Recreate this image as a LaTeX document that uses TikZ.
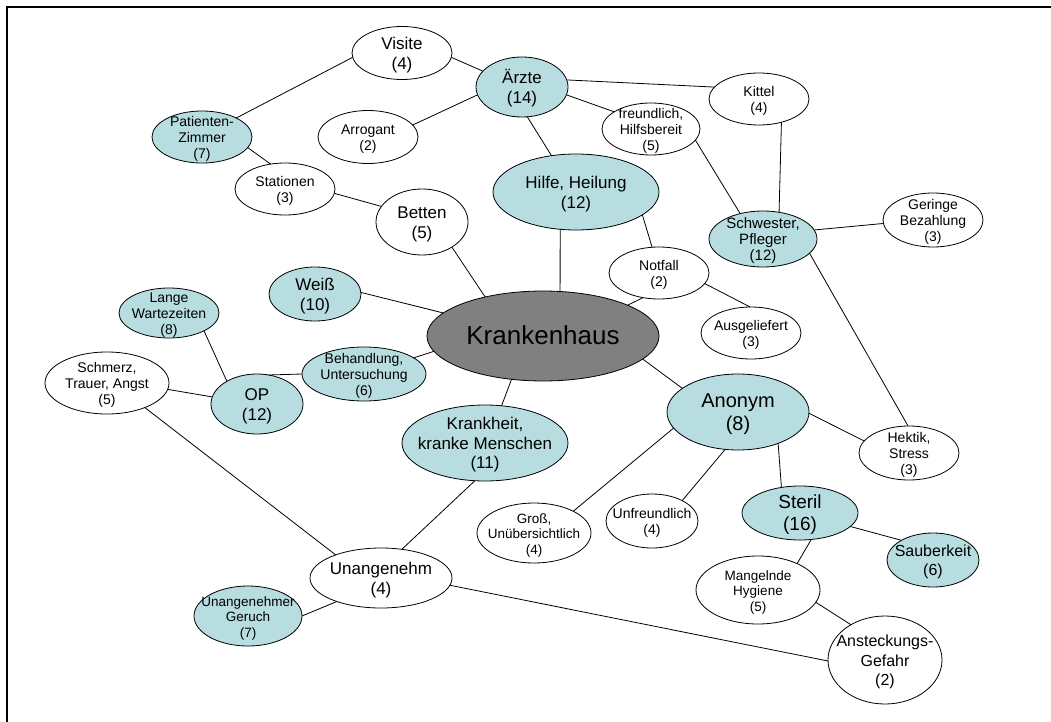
\documentclass[tikz,border=0pt]{standalone}
\usepackage{fontspec}
\setmainfont{Liberation Sans}
\usetikzlibrary{shapes.geometric}
\definecolor{bubteal}{RGB}{183,221,224}
\definecolor{hubgray}{RGB}{128,128,128}
% centred multi-line label that does not influence the ellipse size
\newsavebox\bubblebox
\newcommand\ctext[1]{\sbox\bubblebox{\begin{tabular}{@{}c@{}}#1\end{tabular}}%
  \raisebox{\dimexpr(\dp\bubblebox-\ht\bubblebox)/2-2.5pt\relax}[0pt][0pt]{\makebox[0pt]{\usebox\bubblebox}}}
\begin{document}
\begin{tikzpicture}[x=1pt,y=-1pt,
  bub/.style={ellipse,draw=black,line width=0.8pt,inner sep=0pt,outer sep=0pt},
  plain/.style={bub,fill=white},
  tealb/.style={bub,fill=bubteal},
  hub/.style={bub,fill=hubgray},
  dims/.style 2 args={minimum width=#1pt,minimum height=#2pt},
  fsm/.style={font=\fontsize{14}{16}\selectfont},
  fxs/.style={font=\fontsize{13.5}{15.6}\selectfont},
  fmd/.style={font=\fontsize{17}{19.5}\selectfont},
  flg/.style={font=\fontsize{20}{23}\selectfont},
  link/.style={line width=0.8pt}]
\useasboundingbox (0,0) rectangle (1051,722);
% frame
\draw[line width=2.5pt] (1051,7) -- (7,7) -- (7,722);

% central node
\node[hub,dims={232}{90},font=\fontsize{26}{30}\selectfont] (haus) at (543,336) {\ctext{Krankenhaus}};

% upper part
\node[tealb,dims={100}{52},fsm] (pz) at (202,137) {\ctext{Patienten-\\Zimmer\\(7)}};
\node[plain,dims={100}{53},fmd] (visite) at (402,53) {\ctext{Visite\\(4)}};
\node[tealb,dims={92}{60},fmd] (aerzte) at (522,87) {\ctext{Ärzte\\(14)}};
\node[plain,dims={100}{53},fsm] (arrogant) at (368,137) {\ctext{Arrogant\\(2)}};
\node[plain,dims={98}{52},fsm] (freundlich) at (651,129) {\ctext{freundlich,\\Hilfsbereit\\(5)}};
\node[plain,dims={100}{52},fsm] (kittel) at (759,99) {\ctext{Kittel\\(4)}};
\node[plain,dims={100}{52},fsm] (stationen) at (285,189) {\ctext{Stationen\\(3)}};
\node[plain,dims={92}{66},fmd] (betten) at (422,222) {\ctext{Betten\\(5)}};
\node[tealb,dims={166}{76},fmd] (hilfe) at (576,192) {\ctext{Hilfe, Heilung\\(12)}};
\node[tealb,dims={108}{56},font=\fontsize{15}{16}\selectfont] (schwester) at (763,239) {\ctext{Schwester,\\Pfleger\\(12)}};
\node[plain,dims={100}{54},fsm] (geringe) at (933,220) {\ctext{Geringe\\Bezahlung\\(3)}};
\node[plain,dims={100}{52},fsm] (notfall) at (659,273) {\ctext{Notfall\\(2)}};
\node[plain,dims={100}{52},fsm] (ausgeliefert) at (751,333) {\ctext{Ausgeliefert\\(3)}};

% left part
\node[tealb,dims={92}{54},fmd] (weiss) at (315,294) {\ctext{Weiß\\(10)}};
\node[tealb,dims={100}{50},fsm] (lange) at (169,313) {\ctext{Lange\\Wartezeiten\\(8)}};
\node[plain,dims={124}{62},fsm] (schmerz) at (107,383) {\ctext{Schmerz,\\Trauer, Angst\\(5)}};
\node[tealb,dims={92}{60},fmd] (op) at (257,404) {\ctext{OP\\(12)}};
\node[tealb,dims={124}{54},fsm] (behandlung) at (364,374) {\ctext{Behandlung,\\Untersuchung\\(6)}};
\node[tealb,dims={166}{76},fmd] (krankheit) at (485,443) {\ctext{Krankheit,\\kranke Menschen\\(11)}};
\node[plain,dims={142}{60},fmd] (unangenehm) at (381,578) {\ctext{Unangenehm\\(4)}};
\node[tealb,dims={108}{60},fxs] (geruch) at (248,616) {\ctext{Unangenehmer\\Geruch\\(7)}};

% right part
\node[tealb,dims={142}{76},flg] (anonym) at (738,412) {\ctext{Anonym\\(8)}};
\node[plain,dims={100}{54},fsm] (hektik) at (909,453) {\ctext{Hektik,\\Stress\\(3)}};
\node[plain,dims={114}{60},fxs] (gross) at (534,533) {\ctext{Groß,\\Unübersichtlich\\(4)}};
\node[plain,dims={92}{54},fsm] (unfreundlich) at (652,521) {\ctext{Unfreundlich\\(4)}};
\node[tealb,dims={116}{54},font=\fontsize{19}{22}\selectfont] (steril) at (800,513) {\ctext{Steril\\(16)}};
\node[tealb,dims={92}{54},font=\fontsize{16}{19}\selectfont] (sauberkeit) at (933,560) {\ctext{Sauberkeit\\(6)}};
\node[plain,dims={124}{68},fxs] (mangelnde) at (758,590) {\ctext{Mangelnde\\Hygiene\\(5)}};
\node[plain,dims={114}{88},font=\fontsize{16}{19.5}\selectfont] (ansteckung) at (885,660) {\ctext{Ansteckungs-\\Gefahr\\(2)}};

% connectors
\draw[link] (pz.29) -- (visite.185);
\draw[link] (visite.355) -- (aerzte.158);
\draw[link] (pz.-13) -- (stationen.120);
\draw[link] (stationen.-5) -- (betten.159);
\draw[link] (betten.-40) -- (haus.146);
\draw[link] (aerzte.190) -- (arrogant.15);
\draw[link] (aerzte.9) -- (kittel.165);
\draw[link] (aerzte.-10) -- (freundlich.155);
\draw[link] (aerzte.-80) -- (hilfe.124);
\draw[link] (hilfe.247) -- (haus.69);
\draw[link] (hilfe.-19) -- (notfall.105);
\draw[link] (freundlich.-14) -- (schwester.132);
\draw[link] (kittel.-46) -- (schwester.59);
\draw[link] (schwester.10) -- (geringe.184);
\draw[link] (schwester.-17) -- (hektik.92);
\draw[link] (notfall.237) -- (haus.20);
\draw[link] (notfall.-13) -- (ausgeliefert.92);
\draw[link] (weiss.2) -- (haus.167);
\draw[link] (haus.188) -- (behandlung.18);
\draw[link] (haus.-13) -- (anonym.157);
\draw[link] (haus.234) -- (krankheit.66);
\draw[link] (behandlung.180) -- (op.68);
\draw[link] (lange.-27) -- (op.143);
\draw[link] (schmerz.-6) -- (op.171);
\draw[link] (schmerz.-33) -- (unangenehm.153);
\draw[link] (krankheit.255) -- (unangenehm.54);
\draw[link] (unangenehm.208) -- (geruch.0);
\draw[link] (unangenehm.-6) -- (ansteckung.181);
\draw[link] (anonym.-1) -- (hektik.165);
\draw[link] (anonym.194) -- (gross.29);
\draw[link] (anonym.251) -- (unfreundlich.34);
\draw[link] (anonym.-38) -- (steril.126);
\draw[link] (steril.-15) -- (sauberkeit.148);
\draw[link] (steril.-67) -- (mangelnde.34);
\draw[link] (mangelnde.-12) -- (ansteckung.134);
\end{tikzpicture}
\end{document}
